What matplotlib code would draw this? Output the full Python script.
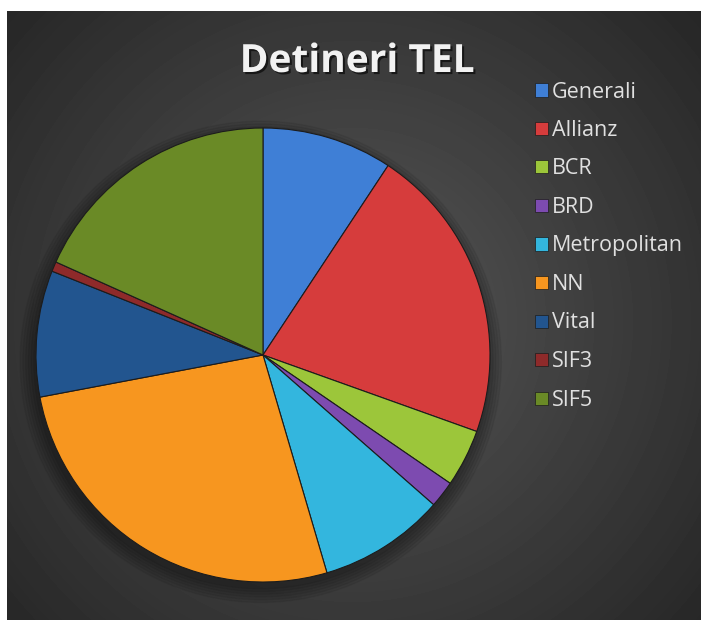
import numpy as np
import matplotlib.pyplot as plt
import matplotlib.patheffects as pe
from matplotlib.patches import Rectangle, Circle

firme = ['Generali', 'Allianz', 'BCR', 'BRD', 'Metropolitan', 'NN', 'Vital', 'SIF3', 'SIF5']
detineri = [9.3, 21.2, 4.1, 1.9, 9.0, 26.6, 9.0, 0.7, 18.3]
culori = ['#3f7fd6', '#d63c3c', '#9cc63a', '#7d4bb0', '#33b6de', '#f7961f', '#22558f', '#8e2a2a', '#6a8a26']

W, H = 701, 620
fig = plt.figure(figsize=(W / 100, H / 100), dpi=100)

# fundal gri inchis cu gradient radial
bg = fig.add_axes([7 / W, 0, (W - 7) / W, (H - 11) / H])
yy, xx = np.mgrid[0:H - 11, 0:W - 7]
d = np.hypot(xx - 345, yy - 310) / 470
img = np.clip(0.34 - 0.19 * d, 0.14, 0.34)
bg.imshow(img, cmap='gray', vmin=0, vmax=1, aspect='auto', interpolation='bilinear')
bg.axis('off')

# pie
cx, cy, r = 263, 355, 227
m = 1.12
ax = fig.add_axes([(cx - m * r) / W, (H - cy - m * r) / H, 2 * m * r / W, 2 * m * r / H])
for k in range(6):
    ax.add_patch(Circle((-0.01, -0.03), 1.0 + 0.012 * k, color='black', alpha=0.06, zorder=0))
ax.pie(detineri, colors=culori, startangle=90, counterclock=False,
       wedgeprops=dict(edgecolor='#1c1c1c', linewidth=0.8))
ax.set_xlim(-m, m)
ax.set_ylim(-m, m)
ax.axis('off')

# titlu
fig.text(357 / W, 1 - 72 / H, 'Detineri TEL', ha='center', va='baseline', fontsize=28,
         fontweight='bold', color='#f2f2f2', family='Open Sans',
         path_effects=[pe.withSimplePatchShadow(offset=(1.5, -1.5), shadow_rgbFace='black', alpha=0.6)])

# legenda
for i, (nume, c) in enumerate(zip(firme, culori)):
    yc = 90 + i * 38.5
    fig.patches.append(Rectangle((535 / W, 1 - (yc + 6.5) / H), 13 / W, 13 / H,
                                 transform=fig.transFigure, facecolor=c,
                                 edgecolor='#1c1c1c', linewidth=0.5))
    fig.text(552 / W, 1 - (yc + 7.5) / H, nume, ha='left', va='baseline', fontsize=15.5,
             color='#e0e0e0', family='Open Sans')

fig.savefig('out.png', dpi=100)
